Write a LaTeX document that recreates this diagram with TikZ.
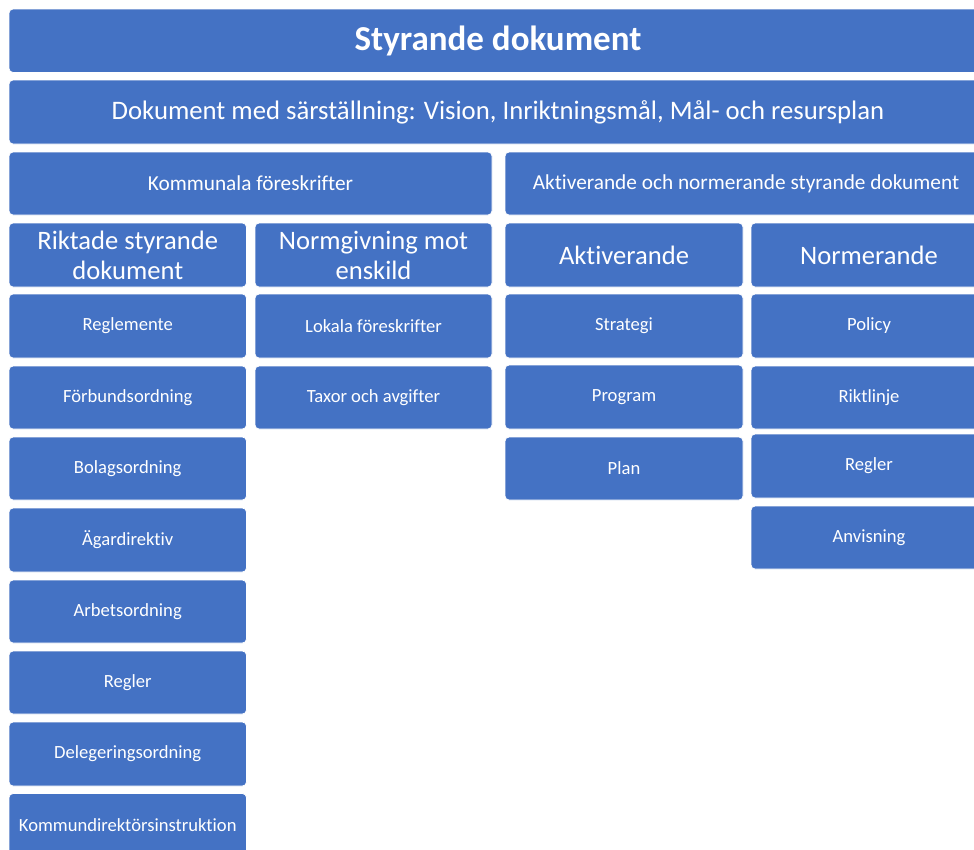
\documentclass[tikz,border=0pt]{standalone}
\usepackage{fontspec}
\setmainfont{Carlito}[Ligatures={NoCommon}]
\definecolor{boxblue}{HTML}{4472C4}
\tikzset{
  box/.style={rectangle, rounded corners=4pt, fill=boxblue, draw=white, line width=0.8pt,
    text=white, align=center, inner sep=0pt, font=\fontsize{18.6}{22}\selectfont},
}
% \bx{name}{x1}{y1}{x2}{y2}{font}{text}
\newcommand{\bx}[7]{%
  \node[box, minimum width={#4-#2}, minimum height={#5-#3}, #6] (#1) at ({(#2+#4)/2},{(#3+#5)/2}) {#7};}
\begin{document}
\begin{tikzpicture}[x=1pt,y=-1pt]
\clip (0,0) rectangle (974,849);
\fill[white] (0,0) rectangle (974,849);
\bx{title}{9}{9}{987}{72.5}{font=\fontsize{35}{42}\selectfont\bfseries}{Styrande dokument}
\bx{special}{9}{80}{987}{144}{font=\fontsize{26.7}{32}\selectfont}{Dokument med särställning: Vision, Inriktningsmål, Mål- och resursplan}
\bx{komm}{9}{152}{492}{215}{font=\fontsize{21.3}{25}\selectfont}{Kommunala föreskrifter}
\bx{aktnorm}{505}{152}{987}{215}{font=\fontsize{21.3}{25}\selectfont}{Aktiverande och normerande styrande dokument}
\bx{riktade}{9}{223}{246.5}{287}{font=\fontsize{26.6}{30}\selectfont}{Riktade styrande\\dokument}
\bx{normgiv}{255}{223}{492}{287}{font=\fontsize{26.6}{30}\selectfont}{Normgivning mot\\enskild}
\bx{akt}{505}{223}{743}{287}{font=\fontsize{26.6}{30}\selectfont}{Aktiverande}
\bx{norm}{751}{223}{987}{287}{font=\fontsize{26.6}{30}\selectfont}{Normerande}
% column 1
\bx{c1a}{9}{294}{246.5}{358}{}{Reglemente}
\bx{c1b}{9}{366}{246.5}{429}{}{Förbundsordning}
\bx{c1c}{9}{437}{246.5}{500}{}{Bolagsordning}
\bx{c1d}{9}{508}{246.5}{572}{}{Ägardirektiv}
\bx{c1e}{9}{580}{246.5}{643}{}{Arbetsordning}
\bx{c1f}{9}{651}{246.5}{714}{}{Regler}
\bx{c1g}{9}{722}{246.5}{786}{}{Delegeringsordning}
\bx{c1h}{9}{793.5}{246.5}{857}{}{Kommundirektörsinstruktion}
% column 2
\bx{c2a}{255}{294}{492}{358}{}{Lokala föreskrifter}
\bx{c2b}{255}{366}{492}{429}{}{Taxor och avgifter}
% column 3
\bx{c3a}{505}{294}{743}{358}{}{Strategi}
\bx{c3b}{505}{365}{743}{429}{}{Program}
\bx{c3c}{505}{437}{743}{500}{}{Plan}
% column 4
\bx{c4a}{751}{294}{987}{358}{}{Policy}
\bx{c4b}{751}{366}{987}{429}{}{Riktlinje}
\bx{c4c}{751}{434}{987}{498}{}{Regler}
\bx{c4d}{751}{506}{987}{569}{}{Anvisning}
\end{tikzpicture}
\end{document}
